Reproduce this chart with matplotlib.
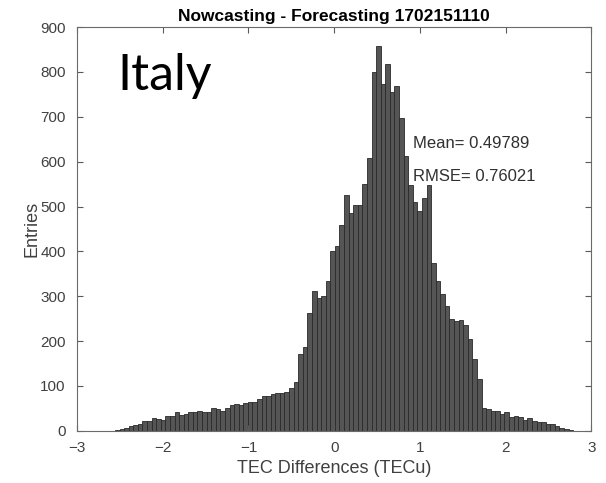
import numpy as np
import matplotlib
matplotlib.use('Agg')
import matplotlib.pyplot as plt

# histogram counts (100 equal bins between min and max)
counts = [2, 5, 7, 11, 13, 16, 22, 22, 29, 26,
          25, 34, 34, 41, 36, 37, 41, 43, 45, 42,
          43, 51, 48, 44, 50, 57, 59, 57, 63, 65,
          65, 71, 77, 78, 83, 84, 85, 87, 95, 109,
          172, 186, 262, 312, 295, 300, 334, 401, 412, 458,
          525, 485, 503, 503, 550, 608, 800, 857, 772, 817,
          755, 769, 697, 612, 548, 509, 491, 519, 548, 375,
          334, 304, 278, 250, 245, 247, 237, 205, 160, 116,
          51, 48, 45, 44, 38, 42, 31, 34, 30, 25,
          29, 22, 20, 19, 15, 15, 10, 7, 4, 2]
data_min = -2.557
data_max = 2.787
x_ticks = [-3, -2, -1, 0, 1, 2, 3]
y_ticks = list(range(0, 1000, 100))
mean_val = 0.49789
rmse_val = 0.76021

plt.rcParams['font.family'] = ['Liberation Sans', 'DejaVu Sans']

edges = np.linspace(data_min, data_max, len(counts) + 1)
widths = np.diff(edges)

fig = plt.figure(figsize=(6.06, 4.83), dpi=100)
ax = fig.add_axes([0.127, 0.108, 0.849, 0.836])

ax.bar(edges[:-1], counts, width=widths, align='edge',
       color='#555555', edgecolor='#2a2a2a', linewidth=0.6)

ax.set_xlim(-3, 3)
ax.set_ylim(0, 900)
ax.set_xticks(x_ticks)
ax.set_yticks(y_ticks)
ax.tick_params(direction='in', length=4, width=0.8, colors='#5a5a5a',
               labelcolor='#404040', labelsize=11, top=True, right=True)
ax.tick_params(axis='x', pad=7)
ax.tick_params(axis='y', pad=8)
for s in ax.spines.values():
    s.set_color('#6a6a6a')
    s.set_linewidth(0.8)

ax.set_title('Nowcasting - Forecasting 1702151110', fontsize=12.5,
             fontweight='bold', pad=4)
ax.set_xlabel('TEC Differences (TECu)', fontsize=13, color='#404040',
              labelpad=4)
ax.set_ylabel('Entries', fontsize=13, color='#404040', labelpad=0)

ax.text(0.92, 640, 'Mean= %.5f' % mean_val, fontsize=12, color='#303030',
        va='center')
ax.text(0.92, 566, 'RMSE= %.5f' % rmse_val, fontsize=12, color='#303030',
        va='center')
fig.text(0.194, 0.842, 'Italy', fontsize=36, family=['Lato', 'DejaVu Sans'],
         color='black', va='center')

fig.savefig('out.png', dpi=100)
